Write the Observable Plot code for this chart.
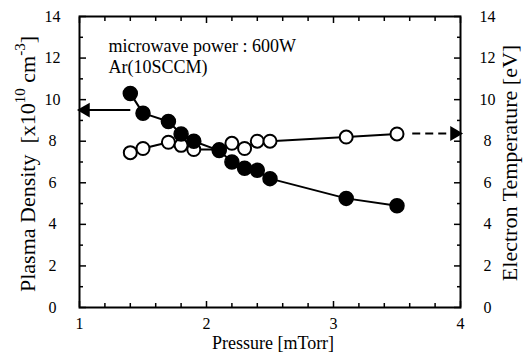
<!DOCTYPE html>
<html><head><meta charset="utf-8">
<script src="https://cdn.jsdelivr.net/npm/d3@7"></script>
<script src="https://cdn.jsdelivr.net/npm/@observablehq/plot@0.6"></script>
<style>body{margin:0;background:#fff}</style>
</head><body><div id="chart"></div>
<script>
// Data
const pressure = [1.4, 1.5, 1.7, 1.8, 1.9, 2.1, 2.2, 2.3, 2.4, 2.5, 3.1, 3.5];
const plasmaDensity = [10.3, 9.35, 8.95, 8.35, 8.0, 7.55, 7.0, 6.7, 6.6, 6.2, 5.25, 4.9];
const electronTemp = [7.45, 7.65, 7.95, 7.8, 7.6, 7.6, 7.9, 7.65, 8.0, 8.0, 8.2, 8.35];
const xTickLabels = [1, 2, 3, 4];
const xMinorTicks = [1.2, 1.4, 1.6, 1.8, 2.2, 2.4, 2.6, 2.8, 3.2, 3.4, 3.6, 3.8];
const yTickLabels = [0, 2, 4, 6, 8, 10, 12, 14];
const yMinorTicks = [1, 3, 5, 7, 9, 11, 13];
const annotationLines = ["microwave power : 600W", "Ar(10SCCM)"];
const xTitle = "Pressure [mTorr]";
const rightTitle = "Electron Temperature [eV]";
const arrowLeft = [{x1: 1.4, x2: 1.0, y: 9.5}];
const arrowRight = [{x1: 3.62, x2: 4.0, y: 8.37}];

const densityData = pressure.map((p, i) => ({p, v: plasmaDensity[i]}));
const tempData = pressure.map((p, i) => ({p, v: electronTemp[i]}));

const W = 526, H = 360;
const M = {top: 16, right: 66, bottom: 53, left: 79};
const SERIF = "'Liberation Serif', 'DejaVu Serif', serif";

const chart = Plot.plot({
  width: W, height: H,
  marginTop: M.top, marginRight: M.right, marginBottom: M.bottom, marginLeft: M.left,
  style: {fontFamily: SERIF, fontSize: "15px", color: "black", background: "white"},
  x: {domain: [1, 4], label: null},
  y: {domain: [0, 14], label: null},
  marks: [
    // ticks (inward)
    Plot.axisX(xTickLabels, {anchor: "bottom", tickSize: -6, text: null, strokeWidth: 1.5}),
    Plot.axisX(xMinorTicks, {anchor: "bottom", tickSize: -4, text: null, strokeWidth: 1.5}),
    Plot.axisX(xTickLabels, {anchor: "top", tickSize: -6, text: null, strokeWidth: 1.5}),
    Plot.axisX(xMinorTicks, {anchor: "top", tickSize: -4, text: null, strokeWidth: 1.5}),
    Plot.axisY(yTickLabels, {anchor: "left", tickSize: -7, text: null, strokeWidth: 1.5}),
    Plot.axisY(yMinorTicks, {anchor: "left", tickSize: -4, text: null, strokeWidth: 1.5}),
    Plot.axisY(yTickLabels, {anchor: "right", tickSize: -7, text: null, strokeWidth: 1.5}),
    Plot.axisY(yMinorTicks, {anchor: "right", tickSize: -4, text: null, strokeWidth: 1.5}),
    // tick labels
    Plot.axisX(xTickLabels, {anchor: "bottom", tickSize: 0, tickPadding: 10, tickFormat: "d", fontSize: 16, label: null}),
    Plot.axisY(yTickLabels, {anchor: "left", tickSize: 0, tickPadding: 27, tickFormat: "d", textAnchor: "middle", fontSize: 16, label: null}),
    Plot.axisY(yTickLabels, {anchor: "right", tickSize: 0, tickPadding: 27, tickFormat: "d", textAnchor: "middle", fontSize: 16, label: null}),
    Plot.frame({stroke: "black", strokeWidth: 2}),
    // series
    Plot.line(tempData, {x: "p", y: "v", stroke: "black", strokeWidth: 2}),
    Plot.line(densityData, {x: "p", y: "v", stroke: "black", strokeWidth: 2}),
    Plot.dot(tempData, {x: "p", y: "v", r: 6.5, fill: "white", stroke: "black", strokeWidth: 2}),
    Plot.dot(densityData, {x: "p", y: "v", r: 7, fill: "black", stroke: "black"}),
    // arrows
    Plot.link(arrowLeft, {x1: "x1", x2: "x2", y1: "y", y2: "y", stroke: "black", strokeWidth: 2}),
    Plot.dot(arrowLeft, {x: "x2", y: "y", symbol: "triangle", r: 5.5, fill: "black", rotate: -90, dx: 6}),
    Plot.link(arrowRight, {x1: "x1", x2: "x2", y1: "y", y2: "y", stroke: "black", strokeWidth: 2, strokeDasharray: "8,5"}),
    Plot.dot(arrowRight, {x: "x2", y: "y", symbol: "triangle", r: 5.5, fill: "black", rotate: 90, dx: -6}),
    // annotation
    Plot.text([annotationLines.join("\n")], {frameAnchor: "top-left", textAnchor: "start", lineAnchor: "top", dx: 29, dy: 20, lineHeight: 1.2, fontSize: 18, fill: "black"}),
    // x title
    Plot.text([xTitle], {frameAnchor: "bottom", dy: 41, dx: 3, fontSize: 18, fill: "black"})
  ]
});

const svg = d3.select(chart);
svg.style("font-family", SERIF);
// left title with superscripts
const lt = svg.append("text")
  .attr("transform", "translate(30,164) rotate(-90)")
  .attr("text-anchor", "middle")
  .attr("dominant-baseline", "middle")
  .attr("font-size", 22)
  .attr("fill", "black");
lt.append("tspan").text("Plasma Density  [x10");
lt.append("tspan").attr("dy", -8).attr("font-size", 15).text("10");
lt.append("tspan").attr("dy", 8).text(" cm");
lt.append("tspan").attr("dy", -8).attr("font-size", 15).text("-3");
lt.append("tspan").attr("dy", 8).text("]");
// right title
svg.append("text")
  .attr("transform", "translate(512,163) rotate(-90)")
  .attr("text-anchor", "middle")
  .attr("dominant-baseline", "middle")
  .attr("font-size", 22)
  .attr("fill", "black")
  .text(rightTitle);
svg.selectAll("g, text, tspan").style("font-family", SERIF);

document.getElementById("chart").appendChild(chart);
</script>
</body></html>
